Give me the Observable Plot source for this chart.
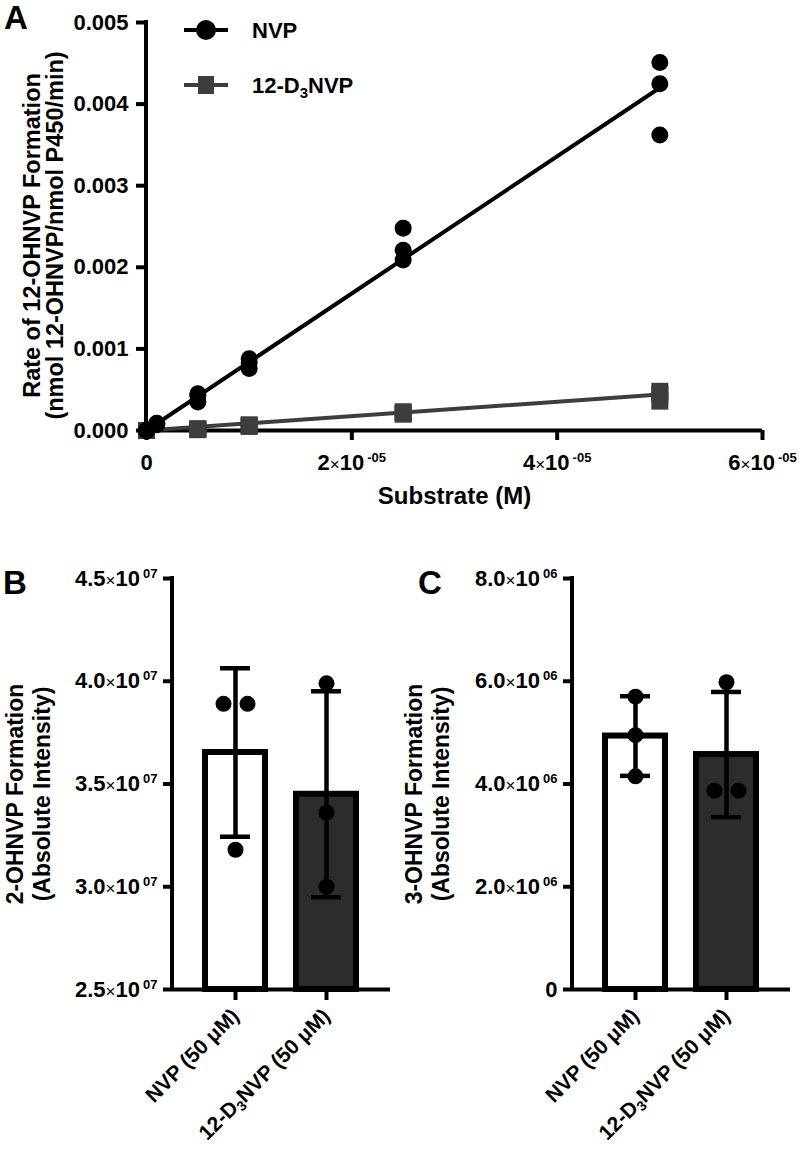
<!DOCTYPE html>
<html><head><meta charset="utf-8">
<script src="https://cdn.jsdelivr.net/npm/d3@7"></script>
<script src="https://cdn.jsdelivr.net/npm/@observablehq/plot@0.6"></script>
<style>
body{margin:0;background:#fff;}
#root{position:relative;width:800px;height:1149px;background:#fff;font-family:"Liberation Sans",Arial,sans-serif;}
.panel{position:absolute;}
#overlay{position:absolute;left:0;top:0;pointer-events:none;}
</style></head><body><div id="root"></div>
<script>
// ---------- Panel A data ----------
const substrateNVP = [0,0,0, 1e-6,1e-6,1e-6, 5e-6,5e-6,5e-6, 1e-5,1e-5,1e-5, 2.5e-5,2.5e-5,2.5e-5, 5e-5,5e-5,5e-5];
const rateNVP      = [0,0,0, 0.00007,0.00008,0.00009, 0.00045,0.00043,0.00035, 0.00088,0.00083,0.00076, 0.00248,0.00221,0.00209, 0.00451,0.00425,0.00362];
const substrateD3  = [0,0,0, 5e-6,5e-6,5e-6, 1e-5,1e-5,1e-5, 2.5e-5,2.5e-5,2.5e-5, 5e-5,5e-5,5e-5];
const rateD3       = [0,0,0, 0.00001,0.00002,0.00002, 0.00005,0.00006,0.00007, 0.00020,0.00021,0.00023, 0.00048,0.00044,0.00036];
const fitX   = [0, 5e-5];
const fitNVP = [0, 0.0042];
const fitD3  = [0, 0.00044];
const xTicksA = [0, 2e-5, 4e-5, 6e-5];
const yTicksA = [0, 0.001, 0.002, 0.003, 0.004, 0.005];
const seriesNames = ["NVP", "12-D3NVP"];

// ---------- Panels B & C data ----------
const groups = ["NVP (50 \u03bcM)", "12-D3NVP (50 \u03bcM)"];
const ohnvp2NVP = [3.89e7, 3.89e7, 3.18e7];
const ohnvp2D3  = [3.99e7, 3.36e7, 3.00e7];
const ohnvp3NVP = [5.70e6, 4.95e6, 4.15e6];
const ohnvp3D3  = [5.98e6, 3.87e6, 3.87e6];
const yTicksB = [2.5e7, 3.0e7, 3.5e7, 4.0e7, 4.5e7];
const yTicksC = [0, 2e6, 4e6, 6e6, 8e6];

const FONT = "Liberation Sans, Arial, sans-serif";
const GRAY = "#3d3d3d";
const DARK = "#2c2c2c";
const root = document.getElementById("root");

function enrich(svg) {
  d3.select(svg).selectAll("text").each(function() {
    if (this.querySelector("tspan")) return;
    const el = d3.select(this);
    const t = this.textContent;
    if (t.includes("^")) {
      const [base, exp] = t.split("^");
      const [m, ten] = base.split("\u00d7");
      el.text(null);
      el.append("tspan").text(m);
      el.append("tspan").attr("font-weight", "normal").attr("font-size", "17px").text("\u00d7");
      el.append("tspan").text(ten);
      el.append("tspan").attr("font-size", "13px").attr("dx", "3").attr("dy", "-8px").text(exp);
    } else if (t.includes("D3")) {
      const [a, b] = t.split("D3");
      el.text(null);
      el.append("tspan").text(a + "D");
      el.append("tspan").attr("font-size", "14px").attr("dy", "4px").text("3");
      el.append("tspan").attr("dy", "-4px").text(b);
    }
  });
}

function place(node, left, top) {
  const d = document.createElement("div");
  d.className = "panel";
  d.style.left = left + "px"; d.style.top = top + "px";
  d.appendChild(node);
  root.appendChild(d);
  enrich(node);
}

// A render-function mark drawing the left axis line along the frame
const leftAxisLine = (index, scales, values, dims) =>
  d3.create("svg:line")
    .attr("x1", dims.marginLeft).attr("x2", dims.marginLeft)
    .attr("y1", dims.marginTop - 2).attr("y2", dims.height - dims.marginBottom)
    .attr("stroke", "black").attr("stroke-width", 4).node();

// ---------- Panel A ----------
const ptsNVP = substrateNVP.map((x, i) => ({x, y: rateNVP[i]}));
const ptsD3 = substrateD3.map((x, i) => ({x, y: rateD3[i]}));
const lineNVP = fitX.map((x, i) => ({x, y: fitNVP[i]}));
const lineD3 = fitX.map((x, i) => ({x, y: fitD3[i]}));

const fmtA = v => v === 0 ? "0" : `${Math.round(v / 1e-5)}\u00d710^-05`;

const plotA = Plot.plot({
  width: 800, height: 530,
  marginLeft: 146, marginRight: 38, marginTop: 22, marginBottom: 100,
  style: {fontFamily: FONT, fontSize: "22px", fontWeight: "bold", background: "transparent", color: "black"},
  x: {domain: [0, 6e-5]},
  y: {domain: [0, 0.005]},
  marks: [
    Plot.axisX({ticks: xTicksA, tickFormat: fmtA, tickSize: 10, tickPadding: 14, strokeWidth: 4, label: null, fontSize: 22}),
    Plot.axisY({ticks: yTicksA, tickFormat: d3.format(".3f"), tickSize: 10, tickPadding: 8, strokeWidth: 4, label: null, fontSize: 22}),
    leftAxisLine,
    Plot.ruleY([0], {strokeWidth: 4}),
    Plot.line(lineD3, {x: "x", y: "y", stroke: GRAY, strokeWidth: 4}),
    Plot.line(lineNVP, {x: "x", y: "y", stroke: "black", strokeWidth: 4}),
    Plot.dot(ptsD3, {x: "x", y: "y", symbol: "square", r: 9.6, fill: GRAY}),
    Plot.dot(ptsNVP, {x: "x", y: "y", r: 8.5, fill: "black"}),
    Plot.text(["Substrate (M)"], {text: d => d, frameAnchor: "bottom", dy: 73, fontSize: 24, fontWeight: "bold"}),
    Plot.text(["Rate of 12-OHNVP Formation\n(nmol 12-OHNVP/nmol P450/min)"], {text: d => d, frameAnchor: "left", textAnchor: "middle", rotate: -90, dx: -102, dy: 9, lineHeight: 0.97, fontSize: 23.5, fontWeight: "bold"})
  ]
});
place(plotA, 0, 0);

// ---------- Panels B and C ----------
function barPanel(v1, v2, domain, ticks, fmt, title, dxTitle) {
  const span = domain[1] - domain[0];
  const raw = [{g: groups[0], v: v1, fill: "white"}, {g: groups[1], v: v2, fill: DARK}];
  const summary = raw.map(d => ({g: d.g, mean: d3.mean(d.v), sd: d3.deviation(d.v), fill: d.fill}));
  const pts = [];
  raw.forEach(d => d.v.forEach((v, i) => {
    let off = 0;
    d.v.forEach((w, j) => { if (j !== i && Math.abs(w - v) < 0.02 * span) off = i < j ? -1 : 1; });
    pts.push({g: d.g, v, off});
  }));
  return Plot.plot({
    width: 400, height: 619,
    marginLeft: 172, marginRight: 10, marginTop: 48, marginBottom: 160,
    style: {fontFamily: FONT, fontSize: "22px", fontWeight: "bold", background: "transparent", color: "black"},
    x: {type: "band", domain: groups, paddingInner: 0.34, paddingOuter: 0.363},
    y: {domain},
    marks: [
      Plot.barY(summary, {x: "g", y1: () => domain[0], y2: "mean", fill: d => d.fill, stroke: "black", strokeWidth: 6}),
      Plot.ruleX(summary, {x: "g", y1: d => d.mean - d.sd, y2: d => d.mean + d.sd, strokeWidth: 4.5}),
      Plot.tickY(summary, {x: "g", y: d => d.mean + d.sd, insetLeft: 15, insetRight: 15, strokeWidth: 4.5}),
      Plot.tickY(summary, {x: "g", y: d => d.mean - d.sd, insetLeft: 15, insetRight: 15, strokeWidth: 4.5}),
      Plot.dot(pts.filter(p => p.off === 0), {x: "g", y: "v", r: 8, fill: "black"}),
      Plot.dot(pts.filter(p => p.off === -1), {x: "g", y: "v", r: 8, fill: "black", dx: -12}),
      Plot.dot(pts.filter(p => p.off === 1), {x: "g", y: "v", r: 8, fill: "black", dx: 12}),
      Plot.axisY({ticks, tickFormat: fmt, tickSize: 9, tickPadding: 6, strokeWidth: 4, label: null, fontSize: 22}),
      Plot.axisX({tickSize: 11, tickRotate: -45, tickPadding: 12, strokeWidth: 4, label: null, fontSize: 21}),
      leftAxisLine,
      Plot.ruleY([domain[0]], {strokeWidth: 4}),
      Plot.text([title], {text: d => d, frameAnchor: "left", textAnchor: "middle", rotate: -90, dx: dxTitle, dy: 10, lineHeight: 1.2, fontSize: 23, fontWeight: "bold"})
    ]
  });
}

const fmtB = v => `${(v / 1e7).toFixed(1)}\u00d710^07`;
const fmtC = v => v === 0 ? "0" : `${(v / 1e6).toFixed(1)}\u00d710^06`;

place(barPanel(ohnvp2NVP, ohnvp2D3, [2.5e7, 4.5e7], yTicksB, fmtB, "2-OHNVP Formation\n(Absolute Intensity)", -145), 0, 530);
place(barPanel(ohnvp3NVP, ohnvp3D3, [0, 8e6], yTicksC, fmtC, "3-OHNVP Formation\n(Absolute Intensity)", -146), 400, 530);

// ---------- Overlay: panel letters + legend ----------
const ov = d3.select(root).append("svg").attr("id", "overlay").attr("width", 800).attr("height", 1149)
  .attr("font-family", FONT).attr("font-weight", "bold");
[["A", 4, 29], ["B", 3, 594], ["C", 418, 594]].forEach(([t, x, y]) =>
  ov.append("text").attr("x", x).attr("y", y).attr("font-size", 33).text(t));
const leg = [{name: seriesNames[0], y: 30, color: "black", sym: "circle"}, {name: seriesNames[1], y: 85, color: GRAY, sym: "square"}];
leg.forEach(l => {
  ov.append("line").attr("x1", 184).attr("x2", 228).attr("y1", l.y).attr("y2", l.y).attr("stroke", l.color).attr("stroke-width", 4);
  if (l.sym === "circle") ov.append("circle").attr("cx", 206).attr("cy", l.y).attr("r", 10).attr("fill", l.color);
  else ov.append("rect").attr("x", 198).attr("y", l.y - 9).attr("width", 16).attr("height", 18).attr("fill", l.color);
  const t = ov.append("text").attr("x", 252).attr("y", l.y + 8).attr("font-size", 22);
  if (l.name.includes("D3")) {
    const [a, b] = l.name.split("D3");
    t.append("tspan").text(a + "D");
    t.append("tspan").attr("font-size", 15).attr("dy", 5).text("3");
    t.append("tspan").attr("dy", -5).text(b);
  } else t.text(l.name);
});
</script></body></html>
